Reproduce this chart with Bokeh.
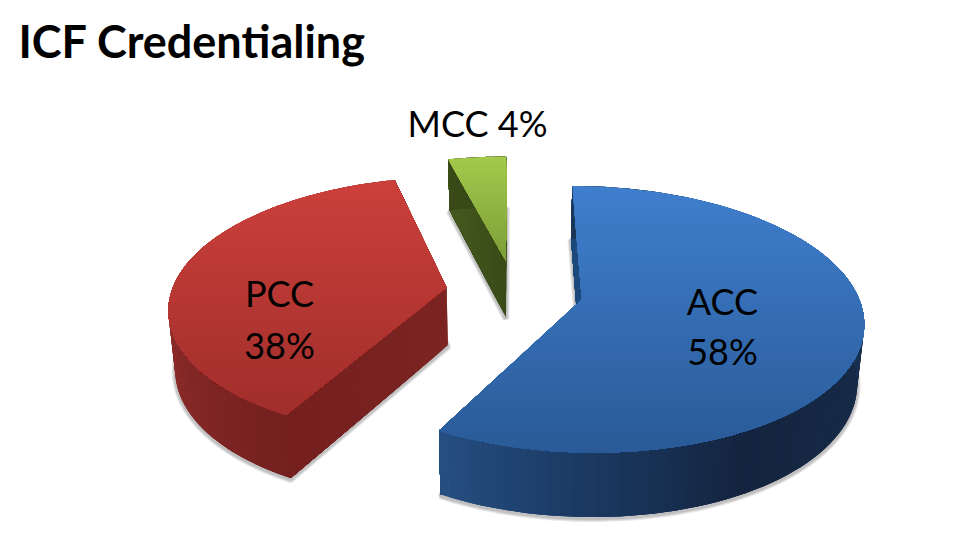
import math
from bokeh.plotting import figure
from bokeh.models import Range1d, ColumnDataSource
from bokeh.core.properties import value
from bokeh.embed import file_html
from bokeh.resources import INLINE

# data
categories = ["ACC", "PCC", "MCC"]
shares = [58, 38, 4]
title_text = "ICF Credentialing"

# styles: colour stops
top_colors = {"ACC": ("#3f7ecd", "#2a5b98"), "PCC": ("#cc403b", "#a02e2b"), "MCC": ("#a3c94b", "#7d9e38")}
arc_colors = {"ACC": [(-118.8, "#264f82"), (-95, "#1c3c66"), (-62, "#14243f"), (-20, "#162b48"), (5, "#1a3556")],
              "PCC": [(180, "#932f2d"), (241.2, "#73201f")],
              "MCC": [(90, "#394b18"), (104.4, "#465a1f")]}
face_colors = {"ACC": ("#1d4a7c", "#1d4a7c"), "PCC": ("#7c2523", "#741f1e"), "MCC": ("#394b18", "#465a1f")}

# projection parameters
XC, YC, CX, RAD, B, K, EXPLODE = 508.0, 291.0, 6.0, 275.0, 128.0, 0.147, 0.25


def hex2rgb(h):
    return tuple(int(h[i:i + 2], 16) for i in (1, 3, 5))


def mix(c0, c1, t):
    a, b = hex2rgb(c0), hex2rgb(c1)
    return "#%02x%02x%02x" % tuple(round(a[i] + (b[i] - a[i]) * t) for i in range(3))


def ramp(stops, x):
    if x <= stops[0][0]:
        return stops[0][1]
    for (x0, c0), (x1, c1) in zip(stops, stops[1:]):
        if x <= x1:
            return mix(c0, c1, (x - x0) / (x1 - x0))
    return stops[-1][1]


def world(mid, r, th):
    X = CX + RAD * (EXPLODE * math.cos(mid) + r * math.cos(th))
    V = EXPLODE * math.sin(mid) + r * math.sin(th)
    return X, V


def top(mid, r, th):
    X, V = world(mid, r, th)
    w = 1 + K * V
    return XC + X / w, YC - B * V / w


def bottom(mid, r, th):
    X, V = world(mid, r, th)
    sx, sy = top(mid, r, th)
    return XC + (sx - XC) * 0.98, sy + 58 - 6 * V


def clip_below(poly, y0):
    out = []
    for i, (x1, y1) in enumerate(poly):
        x2, y2 = poly[(i + 1) % len(poly)]
        if y1 >= y0:
            out.append((x1, y1))
        if (y1 >= y0) != (y2 >= y0):
            t = (y0 - y1) / (y2 - y1)
            out.append((x1 + (x2 - x1) * t, y0))
    return out


p = figure(width=966, height=550, x_range=Range1d(0, 966), y_range=Range1d(550, 0),
           output_backend="svg", toolbar_location=None, min_border=0,
           x_axis_type=None, y_axis_type=None, outline_line_color=None, background_fill_color="white")
p.grid.visible = False

total = sum(shares)
slices = []
angle = 90.0
for name, share in zip(categories, shares):
    sweep = share / total * 360
    slices.append((name, angle - sweep, angle))
    angle -= sweep
order = ["MCC", "PCC", "ACC"]
by_name = {s[0]: s for s in slices}


def add(xs, ys, colors):
    src = ColumnDataSource(dict(xs=xs, ys=ys, c=colors))
    p.patches("xs", "ys", source=src, fill_color="c", line_color=None)


# soft shadows of the bottom outlines
for name in order:
    _, a0, a1 = by_name[name]
    mid = math.radians((a0 + a1) / 2)
    n = 90
    ths = [math.radians(a0 + (a1 - a0) * i / n) for i in range(n + 1)]
    pts = [bottom(mid, 0, 0)] + [bottom(mid, 1, t) for t in ths]
    xs = [q[0] for q in pts]
    ys = [q[1] + 1.5 for q in pts]
    for lw in (7, 5, 3):
        p.patch(xs, ys, fill_color="#000000", fill_alpha=0.0, line_color="#000000", line_alpha=0.09, line_width=lw)

for name in order:
    _, a0, a1 = by_name[name]
    mid = math.radians((a0 + a1) / 2)
    r0, r1 = math.radians(a0), math.radians(a1)
    # cut faces, the front one last; each piece runs on to the rim so later pieces hide the seams
    fxs, fys, fcs = [], [], []
    edges = [r1, r0] if name != "MCC" else [r0, r1]
    for th in edges:
        m = 30
        for i in range(m):
            ra = i / m
            q = [top(mid, ra, th), top(mid, 1, th), bottom(mid, 1, th), bottom(mid, ra, th)]
            fxs.append([c[0] for c in q])
            fys.append([c[1] for c in q])
            cs = face_colors[name]
            fcs.append(mix(cs[0], cs[1], (i + 0.5) / m))
    add(fxs, fys, fcs)

    # outer rim, overlapping strips
    n = 100
    sxs, sys, scs = [], [], []
    for i in range(n):
        da, db = a0 + (a1 - a0) * i / n, a0 + (a1 - a0) * min(n, i + 3) / n
        ths = [math.radians(da + (db - da) * j / 3) for j in range(4)]
        q = [top(mid, 1, t) for t in ths] + [bottom(mid, 1, t) for t in reversed(ths)]
        sxs.append([c[0] for c in q])
        sys.append([c[1] for c in q])
        dm = a0 + (a1 - a0) * (i + 0.5) / n
        if name == "PCC" and dm < 0:
            dm += 360
        scs.append(ramp(arc_colors[name], dm))
    add(sxs, sys, scs)

    # top face with a vertical gradient, painted over itself band by band
    m = 200
    poly = [top(mid, 0, 0)] + [top(mid, 1, math.radians(a0 + (a1 - a0) * i / m)) for i in range(m + 1)]
    ymin, ymax = min(c[1] for c in poly), max(c[1] for c in poly)
    c0, c1 = top_colors[name]
    bands = 48
    txs, tys, tcs = [], [], []
    for b in range(bands):
        y0 = ymin + (ymax - ymin) * b / bands
        part = clip_below(poly, y0) if b else poly
        if len(part) < 3:
            continue
        txs.append([c[0] for c in part])
        tys.append([c[1] for c in part])
        tcs.append(mix(c0, c1, b / (bands - 1)))
    add(txs, tys, tcs)

# texts
black = "#000000"
p.text([18], [40], text=[title_text], text_font=value("Lato"), text_font_style="bold",
       text_font_size="45px", text_color=black, text_baseline="alphabetic", text_align="left")
lab_x = [477, 279, 279, 722, 722]
lab_y = [122, 292, 344, 300, 350]
lab_t = ["MCC 4%", "PCC", "38%", "ACC", "58%"]
p.text(lab_x, lab_y, text=lab_t, text_font=value("Lato"), text_font_size="36px",
       text_color=black, text_baseline="alphabetic", text_align="center")

open("out.html", "w").write(file_html(p, INLINE))
